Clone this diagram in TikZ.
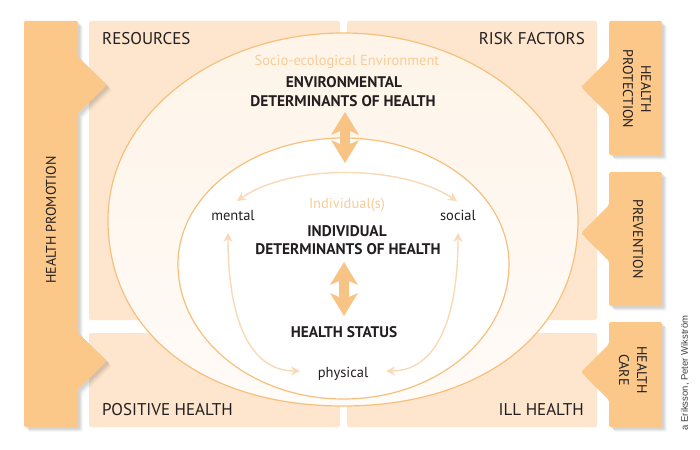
\documentclass[tikz,border=0pt]{standalone}
\usepackage{fontspec}
\setmainfont{PT Sans}
\newfontfamily\creditfont{Liberation Sans}
\usetikzlibrary{arrows.meta}
\definecolor{barc}{RGB}{251,200,138}
\definecolor{panelc}{RGB}{253,230,205}
\definecolor{ringc}{RGB}{254,244,232}
\definecolor{ringlow}{RGB}{255,251,248}
\definecolor{linec}{RGB}{246,192,124}
\definecolor{softc}{RGB}{249,204,152}
\definecolor{thinc}{RGB}{250,217,182}
\definecolor{bigarr}{RGB}{248,196,133}
\definecolor{txtc}{RGB}{35,31,32}
\tikzset{
  panel/.style={fill=panelc, rounded corners=2pt},
  thinarrow/.style={draw=thinc, line width=1.4pt, {Stealth[length=9pt,width=9pt,inset=3pt]}-{Stealth[length=9pt,width=9pt,inset=3pt]}},
  cornerlabel/.style={text=txtc, font=\fontsize{17}{17}\selectfont, inner sep=0pt},
  boldlabel/.style={text=txtc, font=\bfseries\fontsize{15.4}{17}\selectfont, inner sep=0pt},
  softlabel/.style={text=softc, font=\fontsize{14.5}{17}\selectfont, inner sep=0pt},
  smalllabel/.style={text=txtc, font=\fontsize{14.5}{16}\selectfont, inner sep=0pt},
  sidelabel/.style={text=txtc, font=\fontsize{14}{18}\selectfont, inner sep=0pt, align=center},
}
\begin{document}
\begin{tikzpicture}[x=1pt,y=-1pt]
\useasboundingbox (0,0) rectangle (700,449);
\fill[white] (0,0) rectangle (700,449);
% panels
\fill[panel] (89,21) rectangle (340,320);
\fill[panel] (347,21) rectangle (597,320);
\fill[panel] (89,333) rectangle (340,427);
\fill[panel] (347,333) rectangle (597,427);
% outer socio-ecological ellipse
\shade[top color=ringc, middle color=ringc, bottom color=ringlow, draw=linec, line width=1.2pt]
  (578,220) .. controls (578,331.6) and (484,406) .. (343,406)
  .. controls (202,406) and (108,331.6) .. (108,220)
  .. controls (108,116.7) and (213.2,33) .. (343,33)
  .. controls (472.8,33) and (578,116.7) .. (578,220) -- cycle;
% inner individual ellipse
\filldraw[fill=white, draw=linec, line width=1.2pt]
  (509,264) .. controls (509,338.6) and (435,399) .. (343.5,399)
  .. controls (252.1,399) and (178,338.6) .. (178,264)
  .. controls (178,194.4) and (252.1,138) .. (343.5,138)
  .. controls (434.9,138) and (509,194.4) .. (509,264) -- cycle;
% bars with shadows
\foreach \d/\c/\o in {5/black/0.03,4/black/0.04,3/black/0.05,2/black/0.05,0/barc/1}{
  \fill[\c, fill opacity=\o, shift={(\d,\d)}, rounded corners=1.5pt]
    (24,21) -- (78,21) -- (78,57) -- (107,85) -- (78,113) -- (78,333) -- (107,361) -- (78,389) -- (78,427) -- (24,427) -- cycle;
  \fill[\c, fill opacity=\o, shift={(\d,\d)}, rounded corners=1.5pt]
    (609,21) -- (662,21) -- (662,155) -- (609,155) -- (609,115) -- (581,87) -- (609,59) -- cycle;
  \fill[\c, fill opacity=\o, shift={(\d,\d)}, rounded corners=1.5pt]
    (609,172) -- (662,172) -- (662,306) -- (609,306) -- (609,261) -- (581,233) -- (609,205) -- cycle;
  \fill[\c, fill opacity=\o, shift={(\d,\d)}, rounded corners=1.5pt]
    (609,322) -- (662,322) -- (662,427) -- (609,427) -- (609,400) -- (581,372) -- (609,344) -- cycle;
}
% thick double arrows
\fill[bigarr] (345,112) -- (359,135) -- (350,131) -- (350,144) -- (359,140) -- (345,163)
  -- (331,140) -- (340,144) -- (340,131) -- (331,135) -- cycle;
\fill[bigarr] (344,262) -- (358,285) -- (349,281) -- (349,297) -- (358,293) -- (344,316)
  -- (330,293) -- (339,297) -- (339,281) -- (330,285) -- cycle;
% text
\node[cornerlabel, anchor=base west] (res) at (102,45) {RESOURCES};
\node[cornerlabel, anchor=base east] (risk) at (585,45) {RISK FACTORS};
\node[cornerlabel, anchor=base west] (pos) at (102,415) {POSITIVE HEALTH};
\node[cornerlabel, anchor=base east] (ill) at (584,415) {ILL HEALTH};
\node[softlabel, anchor=base] (socio) at (347,66) {Socio-ecological Environment};
\node[boldlabel, anchor=base] (env1) at (344,88) {ENVIRONMENTAL};
\node[boldlabel, anchor=base] (env2) at (343,107) {DETERMINANTS OF HEALTH};
\node[softlabel, anchor=base] (indiv) at (347,208) {Individual(s)};
\node[boldlabel, anchor=base] (ind1) at (347,236) {INDIVIDUAL};
\node[boldlabel, anchor=base] (ind2) at (348,254) {DETERMINANTS OF HEALTH};
\node[boldlabel, anchor=base] (status) at (344,337) {HEALTH STATUS};
\node[smalllabel, anchor=base] (mental) at (233,220) {mental};
\node[smalllabel, anchor=base] (social) at (458,220) {social};
\node[smalllabel, anchor=base] (physical) at (343,377) {physical};
\node[sidelabel, rotate=90] (promo) at (51,220) {HEALTH PROMOTION};
\node[sidelabel, rotate=-90] (prot) at (637,89) {HEALTH\\PROTECTION};
\node[sidelabel, rotate=-90] (prev) at (638,239) {PREVENTION};
\node[sidelabel, rotate=-90] (care) at (633,370) {HEALTH\\CARE};
\node[text=txtc!85, font=\creditfont\fontsize{9.5}{11}\selectfont, rotate=90, inner sep=0pt] (credit) at (685,373) {a Eriksson, Peter Wikström};
% thin arrows
\coordinate (mtop) at (237,201);
\coordinate (stop) at (457,201);
\coordinate (mlow) at (228,233);
\coordinate (slow) at (458,233);
\coordinate (pl) at (300,371);
\coordinate (pr) at (386,371);
\draw[thinarrow] (mtop) .. controls (290,164) and (400,164) .. (stop);
\draw[thinarrow] (mlow) .. controls (228,320) and (250,371) .. (pl);
\draw[thinarrow] (slow) .. controls (458,320) and (436,371) .. (pr);
\end{tikzpicture}
\end{document}
